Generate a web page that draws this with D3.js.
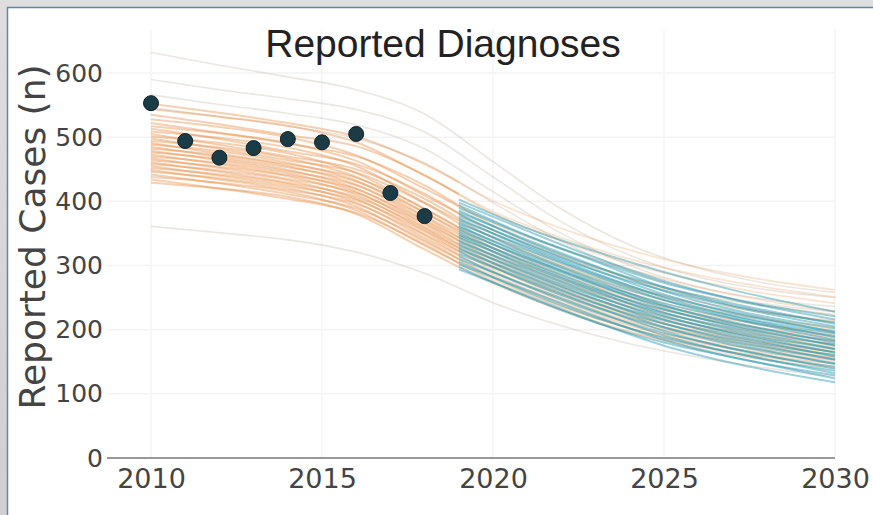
<!DOCTYPE html>
<html>

<head>
  <title>Reported Diagnoses</title>
  <script src="https://cdn.jsdelivr.net/npm/d3@7"></script>
  <style type="text/css">
    body {
      margin: 0;
      background-color: #e2e2e2;
    }

    #chartArea {
      width: 873px;
      height: 515px;
    }

    .tick text {
      font-family: "DejaVu Sans", sans-serif;
      fill: #444;
    }
  </style>
</head>

<body>
  <div id="chartArea"></div>
  <script type="text/javascript">
    // observed reported diagnoses
    let obsYears = [2010, 2011, 2012, 2013, 2014, 2015, 2016, 2017, 2018];
    let obsCases = [553, 494, 468, 483, 497, 492, 505, 413, 377];

    // calibrated model runs (orange), values at fitYears
    let fitYears = [2010, 2012, 2014, 2016, 2018, 2020, 2022, 2024, 2026, 2028, 2030];
    let fitRuns = [
      [552, 538, 522, 501, 458, 401, 358, 324, 297, 277, 262],
      [544, 532, 518, 492, 440, 384, 343, 310, 285, 266, 251],
      [535, 520, 503, 486, 441, 381, 338, 303, 276, 256, 241],
      [528, 516, 500, 472, 420, 366, 326, 294, 266, 245, 229],
      [522, 507, 490, 470, 425, 362, 316, 280, 254, 237, 223],
      [517, 506, 491, 463, 409, 355, 314, 279, 249, 227, 212],
      [513, 497, 478, 458, 412, 350, 302, 266, 243, 226, 214],
      [509, 499, 484, 455, 398, 344, 300, 265, 237, 216, 200],
      [505, 488, 470, 450, 404, 343, 297, 260, 234, 216, 204],
      [501, 491, 475, 444, 388, 333, 292, 257, 228, 206, 192],
      [498, 482, 464, 445, 397, 334, 286, 250, 225, 207, 195],
      [494, 484, 467, 438, 383, 328, 286, 251, 222, 201, 186],
      [491, 474, 458, 437, 389, 327, 280, 244, 219, 201, 189],
      [488, 478, 460, 432, 377, 322, 280, 246, 218, 197, 182],
      [485, 469, 453, 431, 382, 322, 274, 238, 213, 195, 183],
      [482, 472, 455, 426, 371, 317, 275, 240, 212, 191, 177],
      [479, 464, 447, 425, 375, 314, 267, 231, 207, 190, 178],
      [476, 466, 449, 420, 366, 312, 270, 235, 207, 186, 171],
      [473, 458, 441, 419, 369, 309, 262, 227, 203, 186, 174],
      [470, 460, 444, 415, 360, 306, 264, 229, 201, 180, 166],
      [467, 452, 435, 413, 364, 303, 257, 222, 198, 181, 169],
      [464, 454, 439, 410, 355, 301, 259, 224, 197, 176, 161],
      [461, 446, 429, 407, 358, 298, 252, 217, 193, 177, 165],
      [458, 448, 433, 404, 349, 296, 254, 220, 192, 172, 157],
      [455, 440, 424, 402, 353, 293, 247, 212, 189, 173, 161],
      [452, 442, 427, 398, 343, 290, 249, 214, 187, 167, 153],
      [449, 434, 418, 396, 347, 287, 241, 206, 183, 168, 157],
      [446, 436, 421, 392, 337, 284, 243, 208, 181, 161, 147],
      [442, 428, 411, 389, 340, 281, 236, 202, 179, 163, 152],
      [438, 429, 415, 386, 331, 278, 236, 202, 176, 156, 143],
      [434, 420, 404, 382, 333, 275, 230, 196, 174, 158, 147],
      [429, 420, 407, 380, 325, 272, 231, 197, 171, 152, 140]
    ];

    // outlying runs (faint grey), same years as fitYears
    let outlierRuns = [
      [632, 612, 594, 574, 536, 462, 388, 332, 296, 272, 258],
      [590, 574, 560, 543, 508, 438, 368, 316, 282, 262, 250],
      [566, 551, 537, 519, 482, 415, 350, 300, 267, 247, 236],
      [546, 532, 517, 498, 460, 398, 338, 292, 260, 240, 228],
      [361, 351, 340, 321, 288, 242, 206, 178, 157, 140, 127]
    ];

    // projections (teal), values at projYears
    let projYears = [2019, 2021, 2023, 2025, 2027, 2030];
    let projRuns = [
      [403, 358, 322, 290, 262, 228],
      [398, 354, 312, 276, 248, 221],
      [394, 347, 308, 273, 247, 216],
      [390, 346, 306, 266, 238, 211],
      [386, 338, 298, 266, 241, 209],
      [383, 340, 299, 260, 231, 202],
      [380, 332, 292, 261, 236, 205],
      [377, 334, 293, 255, 226, 197],
      [374, 327, 286, 252, 228, 196],
      [371, 329, 288, 250, 222, 194],
      [368, 320, 279, 246, 221, 188],
      [365, 324, 284, 246, 218, 190],
      [362, 314, 273, 241, 217, 184],
      [360, 317, 276, 238, 210, 182],
      [357, 310, 270, 237, 212, 179],
      [354, 312, 271, 233, 205, 176],
      [351, 304, 263, 231, 207, 175],
      [348, 306, 265, 227, 199, 170],
      [346, 298, 258, 226, 202, 170],
      [343, 301, 260, 222, 194, 165],
      [340, 292, 252, 220, 196, 164],
      [337, 295, 254, 216, 188, 160],
      [334, 287, 247, 215, 191, 158],
      [331, 289, 248, 210, 182, 154],
      [328, 281, 241, 209, 185, 153],
      [325, 283, 242, 204, 176, 148],
      [322, 275, 235, 203, 179, 146],
      [318, 277, 236, 198, 170, 142],
      [314, 267, 227, 195, 171, 139],
      [310, 269, 229, 191, 164, 136],
      [306, 259, 219, 187, 164, 132],
      [302, 261, 221, 184, 157, 129],
      [298, 251, 211, 180, 157, 124],
      [294, 253, 212, 175, 148, 118]
    ];

    let xTicks = [2010, 2015, 2020, 2025, 2030];
    let yTicks = [0, 100, 200, 300, 400, 500, 600];

    let W = 873, H = 515;
    let plot = { left: 107, right: 835, top: 30, bottom: 458 };
    let splitYear = 2019;

    let xScale = d3.scaleLinear()
      .domain([2010, 2030])
      .range([151, 835]);

    let yScale = d3.scaleLinear()
      .domain([0, 600])
      .range([plot.bottom, 73]);

    let svg = d3.select('#chartArea').append('svg')
      .attr('width', W)
      .attr('height', H);

    // grey frame + white panel with blue edge
    let defs = svg.append('defs');
    let bg = defs.append('linearGradient')
      .attr('id', 'frameGrad')
      .attr('x1', 0).attr('y1', 0).attr('x2', 0).attr('y2', 1);
    bg.append('stop').attr('offset', '0%').attr('stop-color', '#dedede');
    bg.append('stop').attr('offset', '100%').attr('stop-color', '#cfcfcf');

    svg.append('rect')
      .attr('width', W).attr('height', H)
      .attr('fill', 'url(#frameGrad)');
    svg.append('rect')
      .attr('x', 7.5).attr('y', 7.5)
      .attr('width', W).attr('height', H)
      .attr('fill', '#fff')
      .attr('stroke', '#5f87b3')
      .attr('stroke-width', 1.5);

    defs.append('clipPath').attr('id', 'clipFit')
      .append('rect')
      .attr('x', xScale(2010) - 1).attr('y', plot.top)
      .attr('width', xScale(splitYear) - xScale(2010) + 1)
      .attr('height', plot.bottom - plot.top);
    defs.append('clipPath').attr('id', 'clipProj')
      .append('rect')
      .attr('x', xScale(splitYear)).attr('y', plot.top)
      .attr('width', xScale(2030) - xScale(splitYear) + 1)
      .attr('height', plot.bottom - plot.top);

    // grid
    let grid = svg.append('g').attr('class', 'grid');
    grid.selectAll('.hgrid')
      .data(yTicks.slice(1))
      .enter()
      .append('line')
      .attr('x1', plot.left).attr('x2', plot.right)
      .attr('y1', d => yScale(d)).attr('y2', d => yScale(d))
      .attr('stroke', '#f3f3f3')
      .attr('stroke-width', 1.5);
    grid.selectAll('.vgrid')
      .data(xTicks)
      .enter()
      .append('line')
      .attr('x1', d => xScale(d)).attr('x2', d => xScale(d))
      .attr('y1', plot.top).attr('y2', plot.bottom)
      .attr('stroke', '#f4f4f4')
      .attr('stroke-width', 1.5);

    let line = years => d3.line()
      .x((d, i) => xScale(years[i]))
      .y(d => yScale(d))
      .curve(d3.curveMonotoneX);

    // faint outliers
    svg.append('g')
      .selectAll('path')
      .data(outlierRuns)
      .enter()
      .append('path')
      .attr('d', line(fitYears))
      .attr('fill', 'none')
      .attr('stroke', '#b9ab9c')
      .attr('stroke-opacity', 0.3)
      .attr('stroke-width', 1.6);

    // orange runs, strong up to 2019
    svg.append('g')
      .attr('clip-path', 'url(#clipFit)')
      .selectAll('path')
      .data(fitRuns)
      .enter()
      .append('path')
      .attr('d', line(fitYears))
      .attr('fill', 'none')
      .attr('stroke', '#e58a3e')
      .attr('stroke-opacity', 0.4)
      .attr('stroke-width', 2);

    // orange runs, faded after 2019
    svg.append('g')
      .attr('clip-path', 'url(#clipProj)')
      .selectAll('path')
      .data(fitRuns)
      .enter()
      .append('path')
      .attr('d', line(fitYears))
      .attr('fill', 'none')
      .attr('stroke', '#e99c58')
      .attr('stroke-opacity', 0.28)
      .attr('stroke-width', 1.8);

    // teal projections
    svg.append('g')
      .selectAll('path')
      .data(projRuns)
      .enter()
      .append('path')
      .attr('d', line(projYears))
      .attr('fill', 'none')
      .attr('stroke', '#1590aa')
      .attr('stroke-opacity', 0.42)
      .attr('stroke-width', 2);

    // observed points
    svg.append('g')
      .selectAll('circle')
      .data(obsCases)
      .enter()
      .append('circle')
      .attr('cx', (d, i) => xScale(obsYears[i]))
      .attr('cy', d => yScale(d))
      .attr('r', 7.5)
      .attr('fill', '#1b3c46')
      .attr('stroke', '#0e2228')
      .attr('stroke-width', 1);

    // axes
    let yAxis = svg.append('g')
      .attr('transform', `translate(${plot.left}, 0)`)
      .call(d3.axisLeft(yScale).tickValues(yTicks).tickSize(0).tickPadding(4));
    yAxis.select('.domain').remove();
    yAxis.selectAll('text').style('font-size', '25px');

    let xAxis = svg.append('g')
      .attr('transform', `translate(0, ${plot.bottom})`)
      .call(d3.axisBottom(xScale).tickValues(xTicks).tickFormat(d3.format('d')).tickSize(0).tickPadding(11));
    xAxis.select('.domain').remove();
    xAxis.selectAll('text').style('font-size', '27px');

    svg.append('line')
      .attr('x1', plot.left).attr('x2', plot.right)
      .attr('y1', plot.bottom).attr('y2', plot.bottom)
      .attr('stroke', '#999')
      .attr('stroke-width', 2);

    // titles
    svg.append('text')
      .attr('x', 443).attr('y', 57)
      .attr('text-anchor', 'middle')
      .style('font-family', '"Liberation Sans", Arial, sans-serif')
      .style('font-size', '39px')
      .attr('fill', '#222')
      .text('Reported Diagnoses');

    svg.append('text')
      .attr('transform', 'translate(45, 237) rotate(-90)')
      .attr('text-anchor', 'middle')
      .style('font-family', '"DejaVu Sans", sans-serif')
      .style('font-size', '36px')
      .attr('fill', '#444')
      .text('Reported Cases (n)');
  </script>
</body>

</html>
